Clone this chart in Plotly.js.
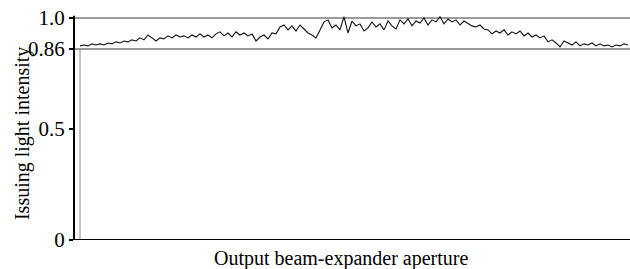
<!DOCTYPE html>
<html>
<head>
<meta charset="utf-8">
<script src="https://cdn.plot.ly/plotly-3.0.1.min.js"></script>
<style>html,body{margin:0;padding:0;background:#fff;}#chart{width:630px;height:269px;}</style>
</head>
<body>
<div id="chart"></div>
<script>
// Relative issuing light intensity sampled across the output beam-expander aperture
const intensity = [
0.874,0.878,0.874,0.883,0.878,0.883,0.878,0.887,0.883,0.892,
0.887,0.896,0.892,0.901,0.896,0.910,0.901,0.923,0.910,0.896,
0.910,0.905,0.919,0.910,0.923,0.914,0.919,0.910,0.923,0.914,
0.928,0.914,0.923,0.910,0.928,0.937,0.919,0.932,0.914,0.937,
0.923,0.932,0.919,0.928,0.896,0.914,0.923,0.905,0.932,0.928,
0.959,0.968,0.946,0.964,0.941,0.968,0.950,0.932,0.923,0.910,
0.946,0.982,0.991,0.955,0.968,0.946,1.005,0.932,0.986,0.964,
0.973,0.941,0.955,0.982,0.959,0.973,0.946,0.986,0.964,0.950,
0.991,0.973,0.995,0.964,0.986,0.977,1.000,0.968,0.991,0.982,
1.005,0.973,0.995,0.982,0.991,0.968,0.986,0.973,0.964,0.959,
0.968,0.950,0.946,0.928,0.941,0.932,0.946,0.923,0.937,0.928,
0.941,0.919,0.932,0.914,0.923,0.910,0.919,0.892,0.901,0.887,
0.869,0.896,0.887,0.878,0.892,0.874,0.883,0.878,0.887,0.874,
0.883,0.874,0.878,0.869,0.878,0.874,0.883,0.878
];
const aperture = intensity.map((_, i) => i);
const refLevels = [1.0, 0.86];
const yTickVals = [0, 0.5, 0.86, 1.0];
const yTickText = ['0', '0.5', '0.86', '1.0'];
const xTitle = 'Output beam-expander aperture';
const yTitle = 'Issuing light intensity';

const fam = '"Liberation Serif", "Times New Roman", serif';
const tickFont = {family: fam, size: 21, color: '#000'};
const titleFont = {family: fam, size: 20, color: '#000'};

const shapes = refLevels.map(v => ({
  type: 'line', xref: 'paper', yref: 'y', x0: 0, x1: 1, y0: v, y1: v,
  line: {color: '#7a7a7a', width: 1.5}, layer: 'below'
}));
// thin frame line at the start of the aperture
shapes.push({type: 'line', xref: 'x', yref: 'y', x0: 0, x1: 0, y0: -0.01, y1: 0.86,
  line: {color: '#8a8a8a', width: 1}, layer: 'below'});
// axes lines
shapes.push({type: 'line', xref: 'paper', yref: 'y', x0: 0, x1: 0, y0: -0.005, y1: 1.01,
  line: {color: '#000', width: 2}});
shapes.push({type: 'line', xref: 'paper', yref: 'y', x0: 0, x1: 1, y0: 0, y1: 0,
  line: {color: '#000', width: 2}});

const trace = {
  x: aperture, y: intensity, type: 'scatter', mode: 'lines',
  line: {color: '#111', width: 1.1}, hoverinfo: 'none', showlegend: false
};

const layout = {
  width: 630, height: 269,
  margin: {l: 74, r: 0, t: 9, b: 29},
  paper_bgcolor: '#fff', plot_bgcolor: '#fff',
  font: titleFont,
  showlegend: false,
  xaxis: {
    range: [-1.5, 137.5], showgrid: false, zeroline: false, showline: false,
    showticklabels: false, ticks: ''
  },
  yaxis: {
    range: [0, 1.04], showgrid: false, zeroline: false, showline: false,
    tickmode: 'array', tickvals: yTickVals, ticktext: yTickText,
    ticks: 'outside', ticklen: 4, tickwidth: 1.5, tickcolor: '#000',
    tickfont: tickFont
  },
  annotations: [
    {text: xTitle, xref: 'x', yref: 'paper', x: 65.25, y: 0, xanchor: 'center', yanchor: 'middle',
     yshift: -18, showarrow: false, font: titleFont},
    {text: yTitle, xref: 'paper', yref: 'y', x: 0, y: 0.477, xanchor: 'center', yanchor: 'middle',
     xshift: -52, textangle: -90, showarrow: false, font: titleFont}
  ],
  shapes: shapes
};

Plotly.newPlot('chart', [trace], layout, {staticPlot: true, displayModeBar: false});
</script>
</body>
</html>
